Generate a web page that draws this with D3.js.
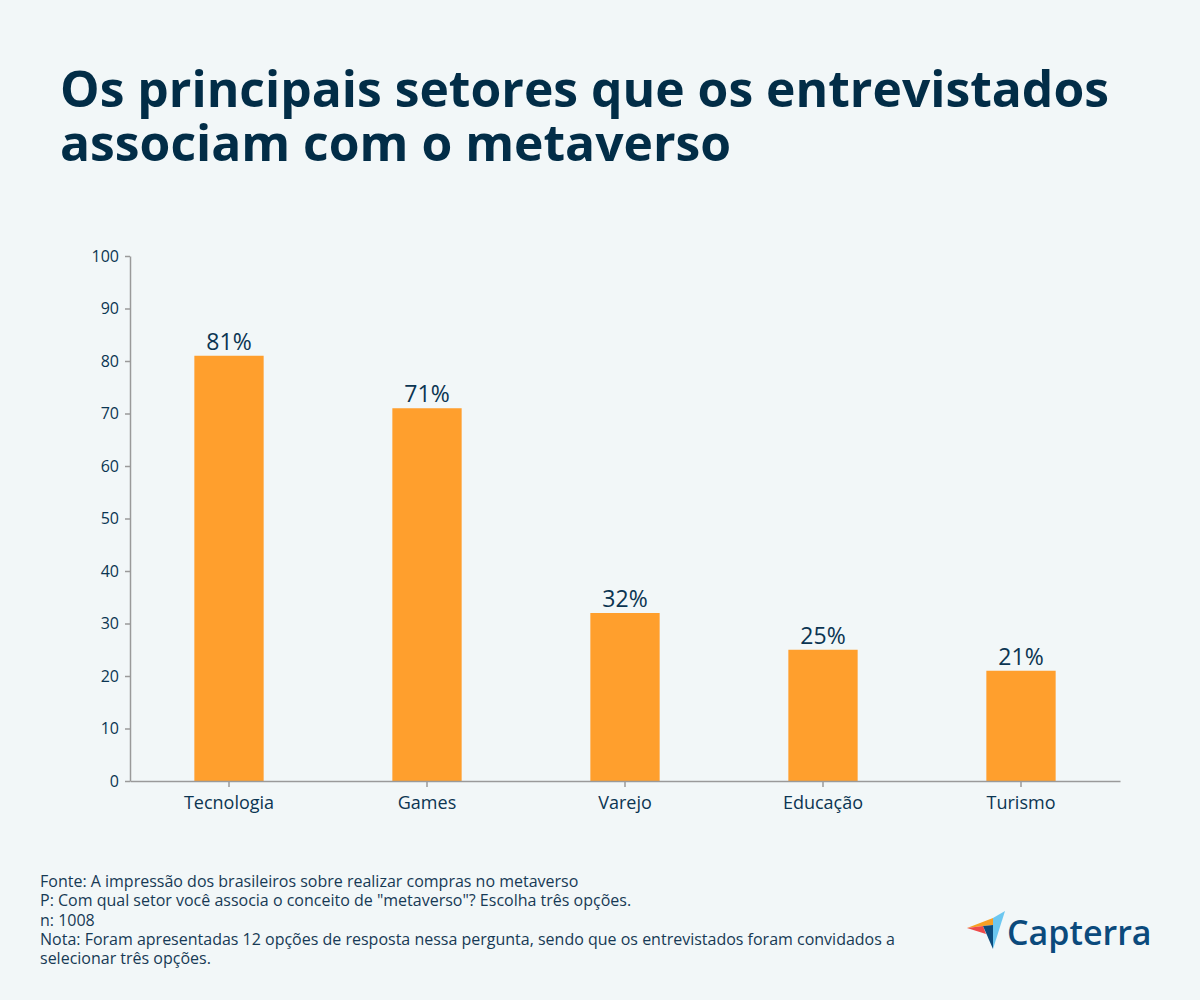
<!DOCTYPE html>
<html>
<head>
<meta charset="utf-8">
<script src="https://cdn.jsdelivr.net/npm/d3@7"></script>
<style>
  body { margin: 0; background: #f2f7f8; }
  svg { display: block; }
</style>
</head>
<body>
<svg id="chart"></svg>
<script>
const categories = ["Tecnologia", "Games", "Varejo", "Educação", "Turismo"];
const values = [81, 71, 32, 25, 21];
const yTicks = [0, 10, 20, 30, 40, 50, 60, 70, 80, 90, 100];
const titleLines = ["Os principais setores que os entrevistados", "associam com o metaverso"];
const footerLines = [
  "Fonte: A impressão dos brasileiros sobre realizar compras no metaverso",
  "P: Com qual setor você associa o conceito de \"metaverso\"? Escolha três opções.",
  "n: 1008",
  "Nota: Foram apresentadas 12 opções de resposta nessa pergunta, sendo que os entrevistados foram convidados a",
  "selecionar três opções."
];

const W = 1200, H = 1000;
const margin = { top: 256, left: 130, right: 80, bottom: 219 };
const width = W - margin.left - margin.right;
const height = H - margin.top - margin.bottom;
const navy = "#0b3552";

const svg = d3.select("#chart").attr("width", W).attr("height", H);
svg.append("rect").attr("width", W).attr("height", H).attr("fill", "#f2f7f8");

// title
svg.append("g")
  .selectAll("text")
  .data(titleLines)
  .join("text")
  .attr("x", 60)
  .attr("y", (d, i) => 107 + i * 54)
  .attr("font-family", "'Open Sans', sans-serif")
  .attr("font-weight", "bold")
  .attr("font-size", "49.8px")
  .attr("fill", "#022d47")
  .text(d => d);

const chart = svg.append("g").attr("transform", `translate(${margin.left},${margin.top})`);

const x = d3.scaleBand().domain(categories).range([0, width]).paddingInner(0.65).paddingOuter(0.325);
const y = d3.scaleLinear().domain([0, 100]).range([height, 0]);

// bars
chart.selectAll(".bar")
  .data(values)
  .join("rect")
  .attr("class", "bar")
  .attr("x", (d, i) => x(categories[i]))
  .attr("width", x.bandwidth())
  .attr("y", d => y(d))
  .attr("height", d => height - y(d))
  .attr("fill", "#ff9f2d");

// value labels
chart.selectAll(".val")
  .data(values)
  .join("text")
  .attr("class", "val")
  .attr("x", (d, i) => x(categories[i]) + x.bandwidth() / 2)
  .attr("y", d => y(d) - 6)
  .attr("text-anchor", "middle")
  .attr("font-family", "'Open Sans', sans-serif")
  .attr("font-size", "23px")
  .attr("fill", navy)
  .text(d => d + "%");

// axes
const xAxisG = chart.append("g")
  .attr("transform", `translate(0,${height})`)
  .call(d3.axisBottom(x).tickSize(6).tickSizeOuter(0).tickPadding(9));
const yAxisG = chart.append("g")
  .call(d3.axisLeft(y).tickValues(yTicks).tickSize(5).tickSizeOuter(0).tickPadding(6));

[xAxisG, yAxisG].forEach(g => {
  g.select(".domain").attr("stroke", "#9a9a9a").attr("stroke-width", 1.5);
  g.selectAll(".tick line").attr("stroke", "#9a9a9a").attr("stroke-width", 1.5);
  g.selectAll(".tick text")
    .attr("fill", navy)
    .attr("font-family", "'Open Sans', sans-serif");
});
xAxisG.selectAll(".tick text").attr("font-size", "18px");
yAxisG.selectAll(".tick text").attr("font-size", "16px");

// footer
svg.append("g")
  .selectAll("text")
  .data(footerLines)
  .join("text")
  .attr("x", 40)
  .attr("y", (d, i) => 887 + i * 19.3)
  .attr("font-family", "'Open Sans', sans-serif")
  .attr("font-size", "16px")
  .attr("fill", "#173a55")
  .text(d => d);

// logo
const logo = svg.append("g");
const shapes = [
  { pts: [[1005, 911], [993, 918], [993, 949]], fill: "#6cc7f0" },
  { pts: [[967, 928], [993, 918], [993, 925], [983, 926]], fill: "#f7a024" },
  { pts: [[967, 928], [983, 926], [986, 934]], fill: "#ee4a4a" },
  { pts: [[983, 926], [993, 925], [993, 949]], fill: "#0c4c7d" }
];
logo.selectAll("polygon")
  .data(shapes)
  .join("polygon")
  .attr("points", d => d.pts.map(p => p.join(",")).join(" "))
  .attr("fill", d => d.fill);
logo.append("text")
  .attr("x", 1007)
  .attr("y", 945)
  .attr("font-family", "'Open Sans', sans-serif")
  .attr("font-weight", 600)
  .attr("font-size", "34px")
  .attr("fill", "#0b4a7c")
  .text("Capterra");
</script>
</body>
</html>
